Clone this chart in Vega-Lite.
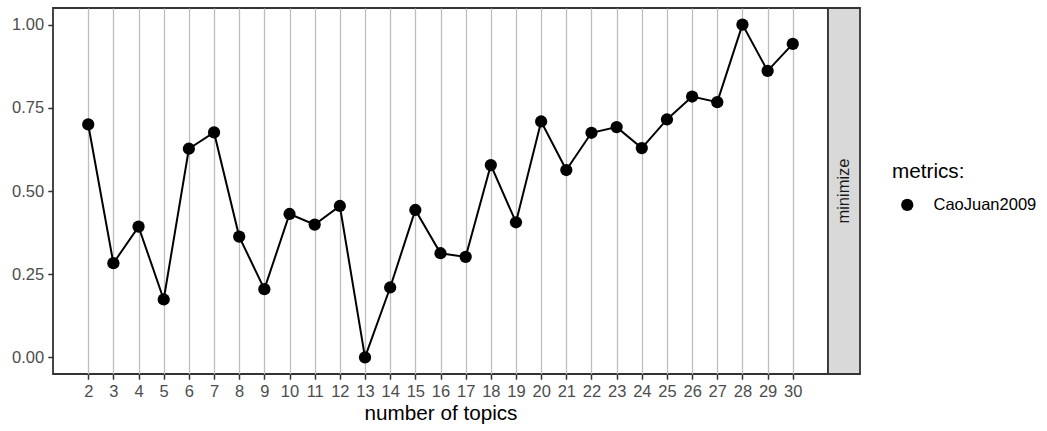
{
  "$schema": "https://vega.github.io/schema/vega-lite/v6.json",
  "background": "white",
  "padding": {"left": 10, "top": 7, "right": 0, "bottom": 0},
  "autosize": {"type": "pad"},
  "bounds": "flush",
  "config": {
    "font": "Liberation Sans",
    "view": {"stroke": "#333333", "strokeWidth": 1.8},
    "concat": {"spacing": 0}
  },
  "datasets": {
    "scores": [
      {"topics": 2, "metric": "CaoJuan2009", "direction": "minimize", "value": 0.700},
      {"topics": 3, "metric": "CaoJuan2009", "direction": "minimize", "value": 0.283},
      {"topics": 4, "metric": "CaoJuan2009", "direction": "minimize", "value": 0.393},
      {"topics": 5, "metric": "CaoJuan2009", "direction": "minimize", "value": 0.174},
      {"topics": 6, "metric": "CaoJuan2009", "direction": "minimize", "value": 0.627},
      {"topics": 7, "metric": "CaoJuan2009", "direction": "minimize", "value": 0.676},
      {"topics": 8, "metric": "CaoJuan2009", "direction": "minimize", "value": 0.363},
      {"topics": 9, "metric": "CaoJuan2009", "direction": "minimize", "value": 0.205},
      {"topics": 10, "metric": "CaoJuan2009", "direction": "minimize", "value": 0.431},
      {"topics": 11, "metric": "CaoJuan2009", "direction": "minimize", "value": 0.399},
      {"topics": 12, "metric": "CaoJuan2009", "direction": "minimize", "value": 0.455},
      {"topics": 13, "metric": "CaoJuan2009", "direction": "minimize", "value": 0.000},
      {"topics": 14, "metric": "CaoJuan2009", "direction": "minimize", "value": 0.210},
      {"topics": 15, "metric": "CaoJuan2009", "direction": "minimize", "value": 0.443},
      {"topics": 16, "metric": "CaoJuan2009", "direction": "minimize", "value": 0.313},
      {"topics": 17, "metric": "CaoJuan2009", "direction": "minimize", "value": 0.302},
      {"topics": 18, "metric": "CaoJuan2009", "direction": "minimize", "value": 0.578},
      {"topics": 19, "metric": "CaoJuan2009", "direction": "minimize", "value": 0.406},
      {"topics": 20, "metric": "CaoJuan2009", "direction": "minimize", "value": 0.709},
      {"topics": 21, "metric": "CaoJuan2009", "direction": "minimize", "value": 0.563},
      {"topics": 22, "metric": "CaoJuan2009", "direction": "minimize", "value": 0.675},
      {"topics": 23, "metric": "CaoJuan2009", "direction": "minimize", "value": 0.692},
      {"topics": 24, "metric": "CaoJuan2009", "direction": "minimize", "value": 0.629},
      {"topics": 25, "metric": "CaoJuan2009", "direction": "minimize", "value": 0.715},
      {"topics": 26, "metric": "CaoJuan2009", "direction": "minimize", "value": 0.784},
      {"topics": 27, "metric": "CaoJuan2009", "direction": "minimize", "value": 0.767},
      {"topics": 28, "metric": "CaoJuan2009", "direction": "minimize", "value": 1.000},
      {"topics": 29, "metric": "CaoJuan2009", "direction": "minimize", "value": 0.861},
      {"topics": 30, "metric": "CaoJuan2009", "direction": "minimize", "value": 0.942}
    ]
  },
  "data": {"name": "scores"},
  "hconcat": [
    {
      "width": 775,
      "height": 366,
      "encoding": {
        "x": {
          "field": "topics",
          "type": "quantitative",
          "scale": {"domain": [0.6, 31.4], "nice": false, "zero": false},
          "axis": {
            "title": "number of topics",
            "values": [2, 3, 4, 5, 6, 7, 8, 9, 10, 11, 12, 13, 14, 15, 16, 17, 18, 19, 20, 21, 22, 23, 24, 25, 26, 27, 28, 29, 30],
            "format": "d",
            "domain": false,
            "grid": true,
            "gridColor": "#BEBEBE",
            "gridWidth": 1.3,
            "ticks": true,
            "tickColor": "#333333",
            "tickWidth": 1.5,
            "tickSize": 5.2,
            "labelPadding": 4.1,
            "labelFontSize": 16.5,
            "labelColor": "#4D4D4D",
            "labelFlush": false,
            "labelOverlap": false,
            "titleFontSize": 20.7,
            "titleFontWeight": "normal",
            "titleColor": "#000000",
            "titlePadding": 4
          }
        },
        "y": {
          "field": "value",
          "type": "quantitative",
          "scale": {"domain": [-0.05, 1.05], "nice": false, "zero": false},
          "axis": {
            "title": null,
            "values": [0, 0.25, 0.5, 0.75, 1],
            "format": ".2f",
            "domain": false,
            "grid": false,
            "ticks": true,
            "tickColor": "#333333",
            "tickWidth": 1.5,
            "tickSize": 5.2,
            "labelPadding": 4.1,
            "labelFontSize": 16.5,
            "labelColor": "#4D4D4D",
            "labelFlush": false
          }
        }
      },
      "layer": [
        {
          "mark": {"type": "line", "color": "#000000", "strokeWidth": 2}
        },
        {
          "mark": {"type": "point", "filled": true, "size": 150, "opacity": 1},
          "encoding": {
            "color": {
              "field": "metric",
              "type": "nominal",
              "scale": {"domain": ["CaoJuan2009"], "range": ["#000000"]},
              "legend": {
                "title": "metrics:",
                "orient": "none",
                "legendX": 839,
                "legendY": 154,
                "padding": 0,
                "titleFontSize": 20.7,
                "titleFontWeight": "normal",
                "titleColor": "#000000",
                "titlePadding": 14,
                "labelFontSize": 16.5,
                "labelColor": "#000000",
                "symbolType": "circle",
                "symbolSize": 150,
                "symbolOffset": 7,
                "labelOffset": 18
              }
            }
          }
        }
      ]
    },
    {
      "width": 32,
      "height": 366,
      "view": {"fill": "#D9D9D9", "stroke": "#333333", "strokeWidth": 1.8},
      "transform": [
        {"aggregate": [{"op": "count", "as": "n"}], "groupby": ["direction"]}
      ],
      "mark": {"type": "text", "angle": 270, "fontSize": 16.5, "color": "#1A1A1A", "align": "center", "baseline": "middle"},
      "encoding": {
        "text": {"field": "direction", "type": "nominal"}
      }
    }
  ]
}
